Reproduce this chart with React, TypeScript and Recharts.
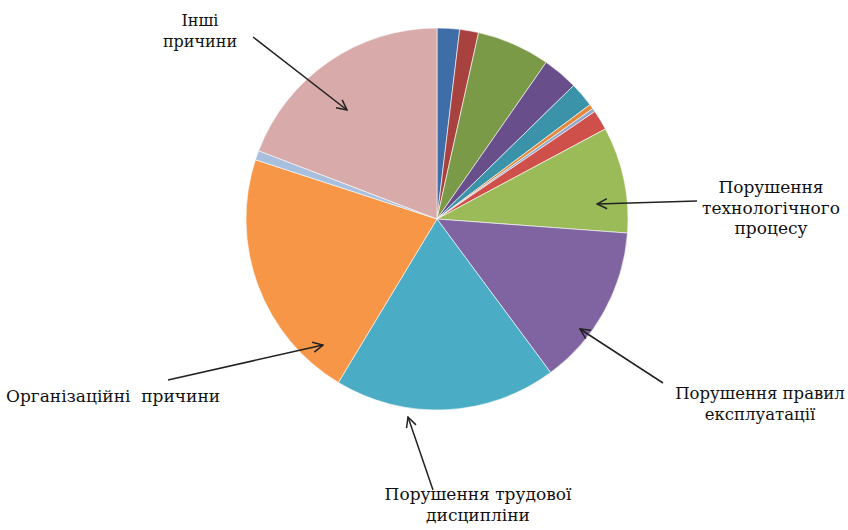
import React from "react";
import { PieChart, Pie, Cell } from "recharts";

const categories = [
  "Причина 1", "Причина 2", "Причина 3", "Причина 4", "Причина 5", "Причина 6", "Причина 7",
  "Причина 8", "Порушення технологічного процесу", "Порушення правил експлуатації",
  "Порушення трудової дисципліни", "Організаційні причини", "Причина 13", "Інші причини",
];
const shares = [1.9, 1.6, 6.2, 3.0, 2.1, 0.4, 0.3, 1.7, 9.0, 13.7, 18.8, 21.4, 0.8, 19.2];
const colors = [
  "#3F6DA8", "#A8423F", "#7B9A48", "#684F8C", "#3A93A9", "#E4883A", "#8EA7CF",
  "#CF4F4B", "#9BBB59", "#8064A2", "#4BACC6", "#F79646", "#A8BFDE", "#D8AAA9",
];

const data = categories.map((name, i) => ({ name, value: shares[i] }));

type Note = { lines: string[]; x: number; y: number; size: number; from: [number, number]; to: [number, number] };
const notes: Note[] = [
  { lines: ["Інші", "причини"], x: 200, y: 20, size: 16, from: [253, 37], to: [347, 110] },
  { lines: ["Порушення", "технологічного", "процесу"], x: 771, y: 187, size: 17, from: [697, 201], to: [597, 204] },
  { lines: ["Порушення правил", "експлуатації"], x: 760, y: 393, size: 16.5, from: [663, 383], to: [580, 329] },
  { lines: ["Порушення трудової", "дисципліни"], x: 478, y: 494, size: 17, from: [433, 490], to: [408, 417] },
  { lines: ["Організаційні  причини"], x: 113, y: 396, size: 17, from: [168, 380], to: [323, 345] },
];

const FONT = "'DejaVu Serif'";

export default function App() {
  return (
    <div style={{ position: "absolute", left: 0, top: 0, width: 848, height: 530, background: "#fff" }}>
      <PieChart width={848} height={530} margin={{ top: 0, right: 0, bottom: 0, left: 0 }}>
        <Pie
          data={data}
          dataKey="value"
          nameKey="name"
          cx={437}
          cy={219}
          outerRadius={191}
          startAngle={90}
          endAngle={-270}
          stroke="#ffffff"
          strokeWidth={0.6}
          isAnimationActive={false}
          labelLine={false}
        >
          {data.map((d, i) => (
            <Cell key={d.name} fill={colors[i]} />
          ))}
        </Pie>
      </PieChart>
      <svg width={848} height={530} style={{ position: "absolute", left: 0, top: 0, pointerEvents: "none" }}>
        <defs>
          <marker id="arr" viewBox="0 0 12 12" refX="11" refY="6" markerWidth="12" markerHeight="12" markerUnits="userSpaceOnUse" orient="auto">
            <path d="M1,1 L11,6 L1,11" fill="none" stroke="#222" strokeWidth={1.5} />
          </marker>
        </defs>
        {notes.map((n, i) => (
          <g key={i}>
            <line x1={n.from[0]} y1={n.from[1]} x2={n.to[0]} y2={n.to[1]} stroke="#222" strokeWidth={1.5} markerEnd="url(#arr)" />
            <text x={n.x} y={n.y} textAnchor="middle" dominantBaseline="central" fontSize={n.size} fill="#111" fontFamily={FONT} style={{ whiteSpace: "pre" }}>
              {n.lines.map((l, j) => (
                <tspan key={j} x={n.x} dy={j === 0 ? 0 : 20.5}>{l}</tspan>
              ))}
            </text>
          </g>
        ))}
      </svg>
    </div>
  );
}
